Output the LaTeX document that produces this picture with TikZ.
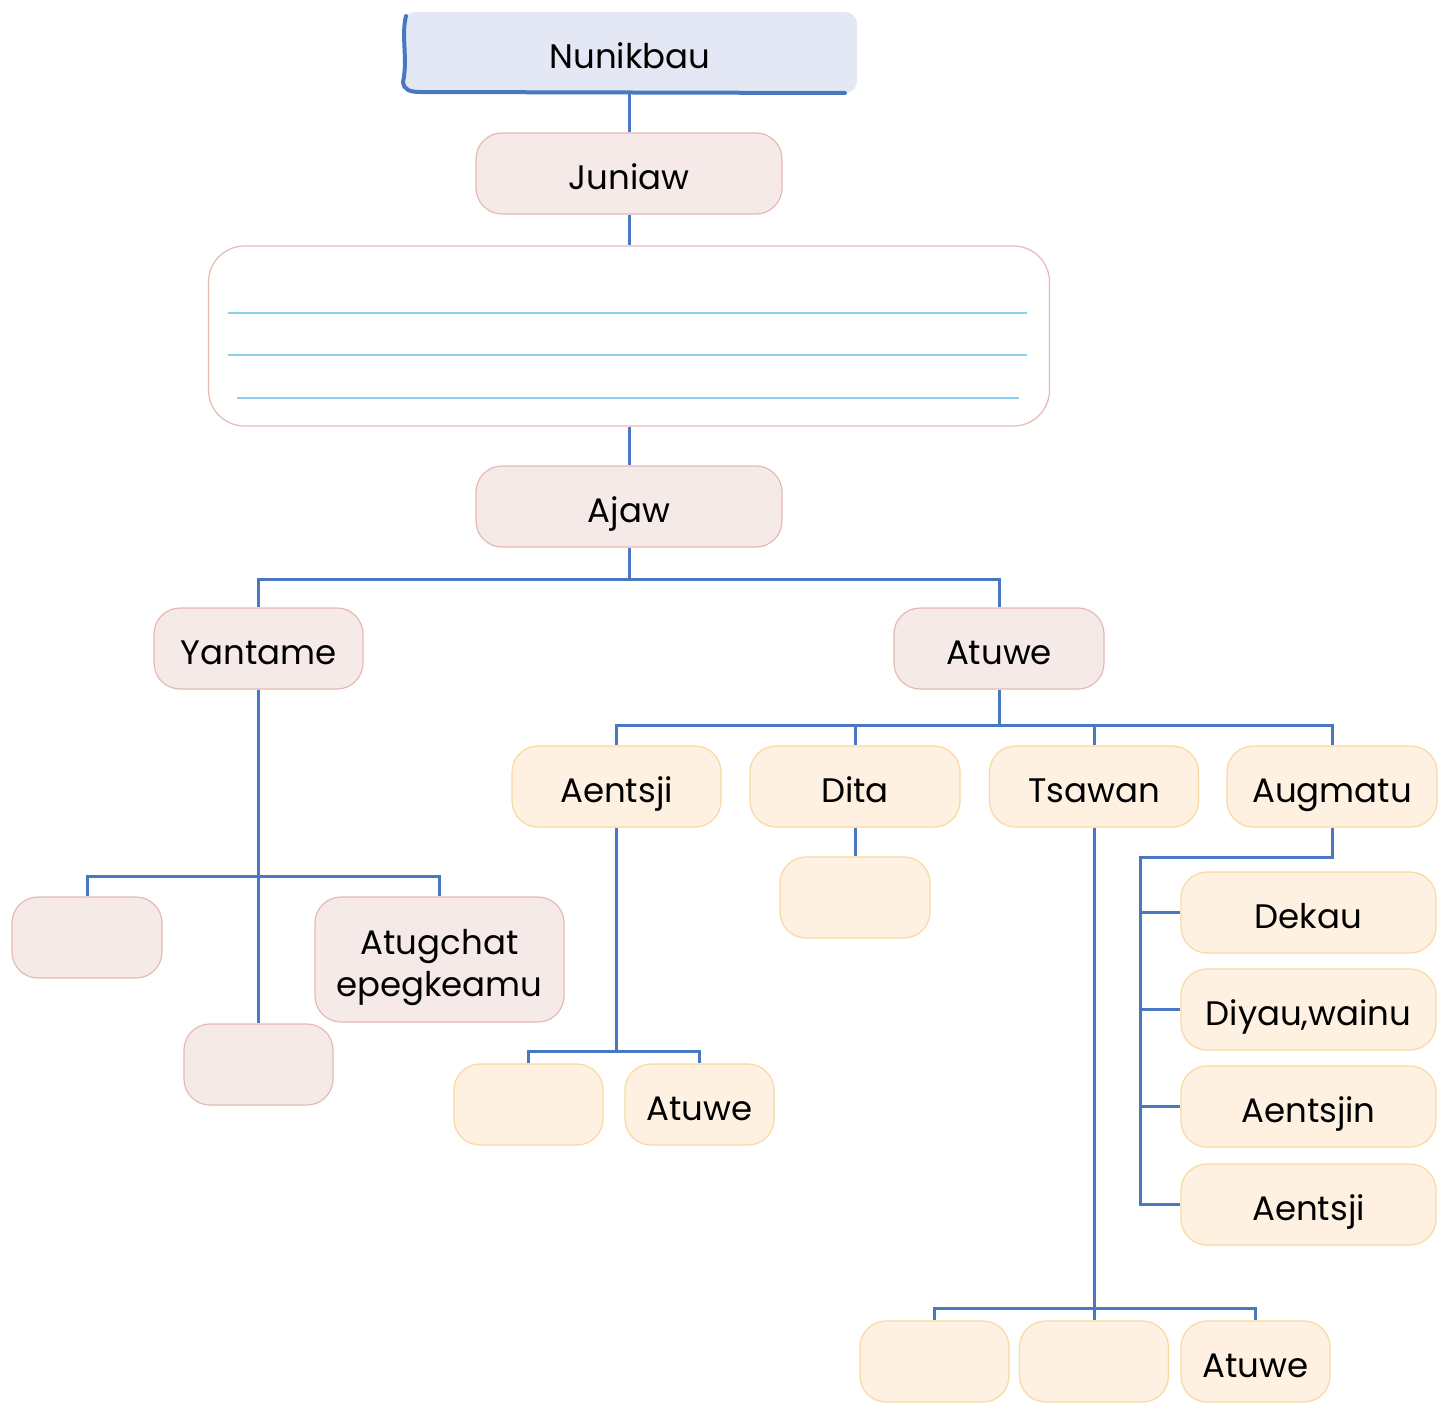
\documentclass[tikz,border=0pt]{standalone}
\usepackage{fontspec}
\setmainfont{Poppins}
\begin{document}
\begin{tikzpicture}[x=0.5pt,y=-0.5pt,
  conn/.style={draw=linkblue,line width=1.5pt},
  boxbase/.style={line width=0.6pt,rounded corners=13pt,minimum height=40.5pt,inner sep=0pt,align=center,font=\fontsize{17}{21}\selectfont,text height=18.7pt,text depth=2.3pt},
  pinkbox/.style={boxbase,draw=pinkline,fill=pinkfill},
  orangebox/.style={boxbase,draw=orangeline,fill=orangefill},
  rule/.style={draw=ruleblue,line width=1pt}]
\definecolor{linkblue}{HTML}{4A78C0}
\definecolor{pinkline}{HTML}{E6BAB4}
\definecolor{pinkfill}{HTML}{F6EAE9}
\definecolor{orangeline}{HTML}{FAD9A0}
\definecolor{orangefill}{HTML}{FEF1E1}
\definecolor{topfill}{HTML}{E4E8F5}
\definecolor{ruleblue}{HTML}{8CCFF0}
\useasboundingbox (0,0) rectangle (1444,1402);
\fill[white] (0,0) rectangle (1444,1402);

% top node
\node[fill=topfill,rounded corners=6pt,minimum width=227pt,minimum height=40.5pt,inner sep=0pt,font=\fontsize{17}{21}\selectfont,text height=18.7pt,text depth=2.3pt] (nun) at (630,52.5) {Nunikbau};
\draw[draw=linkblue,line width=2pt,line cap=round] (406,16) .. controls (401,35) and (408,60) .. (403,82) .. controls (404,90) and (410,92) .. (420,92) -- (845,93);

\node[pinkbox,minimum width=153pt] (jun) at (629,173.5) {Juniaw};
\node[draw=pinkline,fill=white,line width=0.6pt,rounded corners=18pt,minimum width=420.5pt,minimum height=90pt,inner sep=0pt] (lined) at (629,336) {};
\draw[rule] (228,313) -- (1027,313);
\draw[rule] (228,355) -- (1027,355);
\draw[rule] (237,398) -- (1019,398);
\node[pinkbox,minimum width=153pt] (ajaw) at (629,506.5) {Ajaw};

\node[pinkbox,minimum width=104.5pt] (yan) at (258.5,648.5) {Yantame};
\node[pinkbox,minimum width=105pt] (atu) at (999,648.5) {Atuwe};

\node[orangebox,minimum width=104.5pt] (aen) at (616.5,786.5) {Aentsji};
\node[orangebox,minimum width=105pt] (dita) at (855,786.5) {Dita};
\node[orangebox,minimum width=104.5pt] (tsa) at (1094,786.5) {Tsawan};
\node[orangebox,minimum width=105pt] (aug) at (1332,786.5) {Augmatu};

\node[pinkbox,minimum width=75pt] (y1) at (87,937.5) {};
\node[draw=pinkline,fill=pinkfill,line width=0.6pt,rounded corners=13pt,inner sep=0pt,minimum width=124.5pt,minimum height=62.5pt,font=\fontsize{17}{21}\selectfont] (y2) at (439.5,959.5) {\raisebox{-4pt}[\height][\depth]{\begin{tabular}{@{}c@{}}Atugchat\\epegkeamu\end{tabular}}};
\node[pinkbox,minimum width=74.5pt] (y3) at (258.5,1064.5) {};

\node[orangebox,minimum width=74.5pt] (a1) at (528.5,1104.5) {};
\node[orangebox,minimum width=74.5pt] (a2) at (699.5,1104.5) {Atuwe};

\node[orangebox,minimum width=75pt] (d1) at (855,897.5) {};

\node[orangebox,minimum width=127.5pt] (g1) at (1308.5,912.5) {Dekau};
\node[orangebox,minimum width=127.5pt] (g2) at (1308.5,1009.5) {Diyau,wainu};
\node[orangebox,minimum width=127.5pt] (g3) at (1308.5,1106.5) {Aentsjin};
\node[orangebox,minimum width=127.5pt] (g4) at (1308.5,1204.5) {Aentsji};

\node[orangebox,minimum width=74.5pt] (t1) at (934.5,1361.5) {};
\node[orangebox,minimum width=74.5pt] (t2) at (1094,1361.5) {};
\node[orangebox,minimum width=74.5pt] (t3) at (1255.5,1361.5) {Atuwe};

% connectors
\draw[conn] (jun.north |- nun.south) -- (jun.north);
\draw[conn] (jun.south) -- (lined.north);
\draw[conn] (lined.south) -- (ajaw.north);

\coordinate (b1) at (629,579);
\draw[conn] (ajaw.south) -- (b1);
\draw[conn] (yan.north) |- (b1) -| (atu.north);

\coordinate (b2) at (999,725);
\draw[conn] (atu.south) -- (b2);
\draw[conn] (aen.north) |- (b2) -| (aug.north);
\draw[conn] (dita.north) -- (dita.north |- b2);
\draw[conn] (tsa.north) -- (tsa.north |- b2);

\coordinate (b3) at (258.5,876);
\draw[conn] (yan.south) -- (y3.north);
\draw[conn] (y1.north) |- (b3) -| (y2.north);

\coordinate (b4) at (616.5,1051);
\draw[conn] (aen.south) -- (b4);
\draw[conn] (a1.north) |- (b4) -| (a2.north);

\draw[conn] (dita.south) -- (d1.north);

\coordinate (b5) at (1094,1308);
\draw[conn] (tsa.south) -- (t2.north);
\draw[conn] (t1.north) |- (b5) -| (t3.north);

\coordinate (s1) at (1140,857);
\coordinate (s2) at (1140,1204.5);
\draw[conn] (aug.south) |- (s1) -- (s2) -- (g4.west);
\draw[conn] (g1.west) -- (g1.west -| s1);
\draw[conn] (g2.west) -- (g2.west -| s1);
\draw[conn] (g3.west) -- (g3.west -| s1);
\end{tikzpicture}
\end{document}
